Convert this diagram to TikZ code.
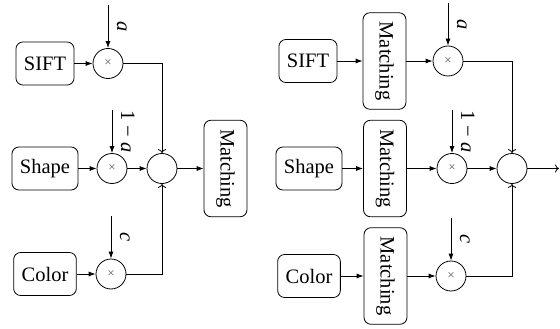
\documentclass[tikz,border=0pt]{standalone}
\usepackage{fontspec}
\setmainfont{Liberation Serif}
\usetikzlibrary{arrows.meta}
\begin{document}
\begin{tikzpicture}[x=1pt,y=-1pt,line width=0.8pt,
  box/.style={draw, rounded corners=7pt, minimum height=43pt, inner xsep=8pt, font=\fontsize{20.5}{24}\selectfont},
  mbox/.style={box, rotate=-90, inner xsep=9pt},
  mult/.style={draw, circle, minimum size=30pt, inner sep=0pt, text=black!65, font=\fontsize{13}{13}\selectfont},
  sumc/.style={draw, circle, minimum size=30pt, inner sep=0pt},
  fa/.style={-{Latex[length=7pt,width=5pt]}},
  oa/.style={-{To[length=4pt,width=8pt]}},
  lab/.style={midway, anchor=base, rotate=-90, inner sep=0pt, yshift=9pt, font=\fontsize{20.5}{24}\selectfont}]
\useasboundingbox (0,0) rectangle (560,329);
% left diagram
\node[box] (s1) at (45,63.5) {SIFT};
\node[box] (h1) at (45,168.5) {Shape};
\node[box] (c1) at (45,274) {Color};
\node[mult] (ms1) at (108,63.5) {×};
\node[mult] (mh1) at (112,168.5) {×};
\node[mult] (mc1) at (111,274) {×};
\node[sumc] (sum1) at (162,168.5) {};
\node[mbox] (m1) at (225.5,168.5) {Matching};
\coordinate (ta1) at (108,5);
\coordinate (th1) at (112,110);
\coordinate (tc1) at (111,216);
\draw[fa] (s1) -- (ms1);
\draw[fa] (h1) -- (mh1);
\draw[fa] (c1) -- (mc1);
\draw[fa] (ta1) -- node[lab]{\textit{a}} (ms1);
\draw[fa] (th1) -- node[lab]{1 − \textit{a}} (mh1);
\draw[fa] (tc1) -- node[lab]{\textit{c}} (mc1);
\draw[oa] (ms1) -| (sum1);
\draw[fa] (mh1) -- (sum1);
\draw[oa] (mc1) -| (sum1);
\draw[fa] (sum1) -- (m1);
% right diagram
\node[box] (s2) at (308,61) {SIFT};
\node[box] (h2) at (309,168.5) {Shape};
\node[box] (c2) at (309,276) {Color};
\node[mbox] (n1) at (384.5,61) {Matching};
\node[mbox] (n2) at (385,168.5) {Matching};
\node[mbox] (n3) at (385.5,276) {Matching};
\node[mult] (ms2) at (448,61) {×};
\node[mult] (mh2) at (452,168.5) {×};
\node[mult] (mc2) at (451,276) {×};
\node[sumc] (sum2) at (512,168.5) {};
\coordinate (ta2) at (448,3);
\coordinate (th2) at (452,110);
\coordinate (tc2) at (451,218);
\coordinate (out) at (559,168.5);
\draw[fa] (s2) -- (n1);
\draw[fa] (h2) -- (n2);
\draw[fa] (c2) -- (n3);
\draw[fa] (n1) -- (ms2);
\draw[fa] (n2) -- (mh2);
\draw[fa] (n3) -- (mc2);
\draw[fa] (ta2) -- node[lab]{\textit{a}} (ms2);
\draw[fa] (th2) -- node[lab]{1 − \textit{a}} (mh2);
\draw[fa] (tc2) -- node[lab]{\textit{c}} (mc2);
\draw[oa] (ms2) -| (sum2);
\draw[fa] (mh2) -- (sum2);
\draw[oa] (mc2) -| (sum2);
\draw[oa] (sum2) -- (out);
\end{tikzpicture}
\end{document}
